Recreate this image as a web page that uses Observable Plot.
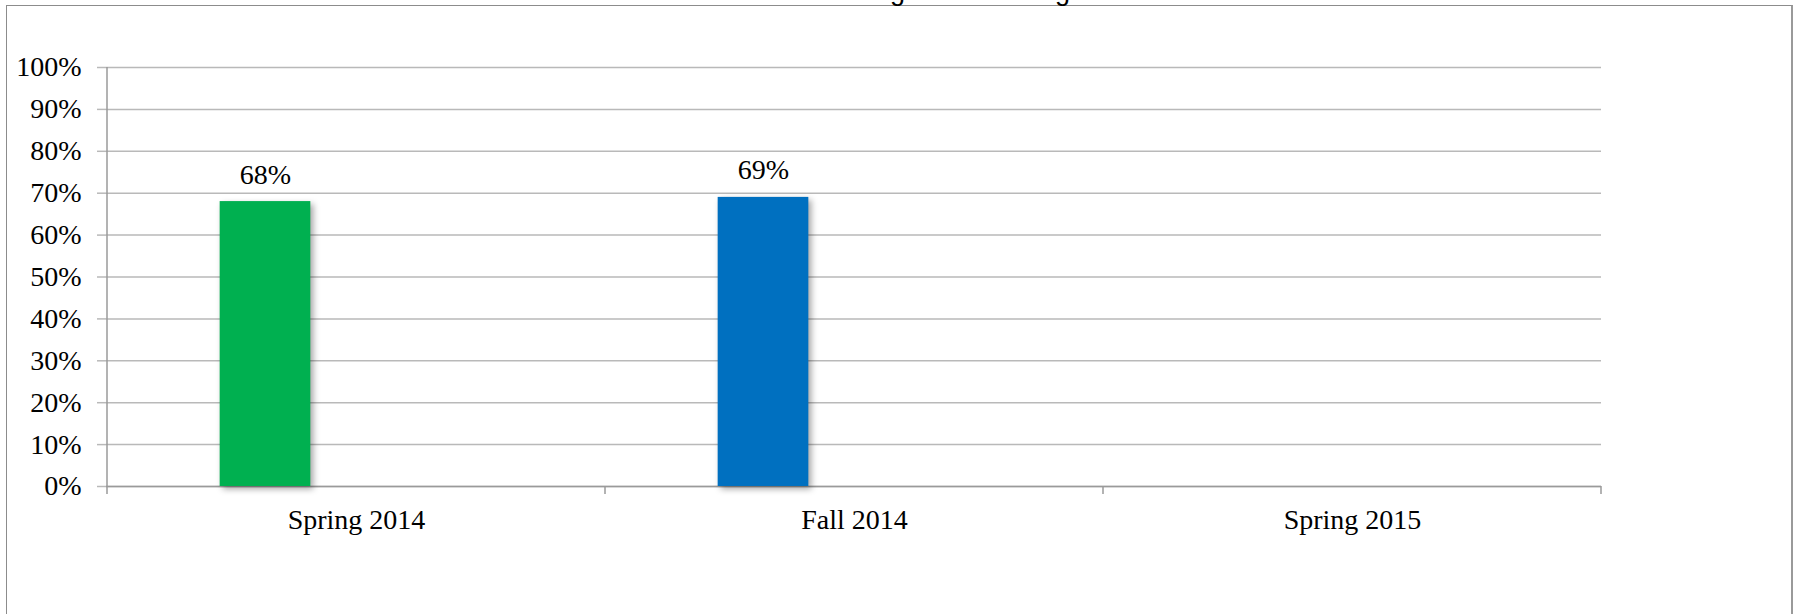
<!DOCTYPE html>
<html><head><meta charset="utf-8">
<script src="https://cdn.jsdelivr.net/npm/d3@7"></script>
<script src="https://cdn.jsdelivr.net/npm/@observablehq/plot@0.6"></script>
<style>
html,body{margin:0;padding:0;background:#fff;overflow:hidden;width:1794px;height:614px;position:relative;}
#frame{position:absolute;left:6px;top:5px;width:1784px;height:700px;border-left:1px solid #8c8c8c;border-top:1px solid #8c8c8c;border-right:2px solid #9a9a9a;}
#title{position:absolute;left:0;width:1876px;top:-22px;text-align:center;font:27px/27px "Liberation Sans",Arial,sans-serif;color:#000;white-space:nowrap;}
#chart{position:absolute;left:0;top:0;}
#chart g[aria-label="bar"] rect{filter:drop-shadow(3px 3px 3px rgba(0,0,0,0.35));}
</style></head><body>
<div id="frame"></div>
<div id="title">Percent of Students Meeting or Exceeding Grade Level Norms</div>
<div id="chart"></div>
<script>
// ---- data ----
const terms = ["Spring 2014", "Fall 2014", "Spring 2015"];
const percentMeeting = [0.68, 0.69, null];
const barColors = ["#00B050", "#0070C0", "#7F7F7F"];
const yTicks = [0, 0.1, 0.2, 0.3, 0.4, 0.5, 0.6, 0.7, 0.8, 0.9, 1.0];

// ---- layout / style ----
const W = 1794, H = 614, mL = 106, mR = 193, mT = 67, mB = 128;
const step = (W - mL - mR) / terms.length;
const barW = 91, shift = -91;
const inL = (step - barW) / 2 + shift, inR = (step - barW) / 2 - shift;
const gridColor = "#b9b9b9", axisColor = "#9a9a9a";

const rows = terms.map((t, i) => ({term: t, value: percentMeeting[i], color: barColors[i]}));
const fmt = d3.format(".0%");

const plot = Plot.plot({
  width: W, height: H,
  marginLeft: mL, marginRight: mR, marginTop: mT, marginBottom: mB,
  style: {fontFamily: '"Liberation Serif", "DejaVu Serif", serif', fontSize: "28px", background: "transparent", color: "#000"},
  x: {domain: terms, padding: 0, label: null, axis: null},
  y: {domain: [0, 1], label: null, axis: null},
  marks: [
    Plot.gridY(yTicks, {stroke: gridColor, strokeOpacity: 1, strokeWidth: 1.5}),
    Plot.axisY(yTicks, {tickSize: 9, tickPadding: 16, tickFormat: fmt, stroke: gridColor, strokeWidth: 1.5, label: null}),
    Plot.ruleY([0], {stroke: axisColor, strokeWidth: 1.5}),
    Plot.axisX({tickSize: 0, tickPadding: 23, label: null}),
    Plot.barY(rows.filter(d => d.value != null), {x: "term", y: "value", fill: "color", insetLeft: inL, insetRight: inR}),
    Plot.text(rows.filter(d => d.value != null), {x: "term", y: "value", text: d => fmt(d.value), dx: shift, dy: -27, fill: "#000"})
  ]
});
document.getElementById("chart").appendChild(plot);

// axis line and category-boundary ticks, from the plot's own scales
const svg = d3.select(plot);
const xs = plot.scale("x"), ys = plot.scale("y");
const y0 = ys.apply(0), y1 = ys.apply(1);
const bw = xs.bandwidth != null ? xs.bandwidth : step;
const xLeft = xs.apply(terms[0]);
svg.append("line").attr("x1", xLeft).attr("x2", xLeft).attr("y1", y1).attr("y2", y0 + 8)
  .attr("stroke", axisColor).attr("stroke-width", 1.5);
terms.forEach(t => {
  const xb = xs.apply(t) + bw;
  svg.append("line").attr("x1", xb).attr("x2", xb).attr("y1", y0).attr("y2", y0 + 8)
    .attr("stroke", axisColor).attr("stroke-width", 1.5);
});
</script>
</body></html>
